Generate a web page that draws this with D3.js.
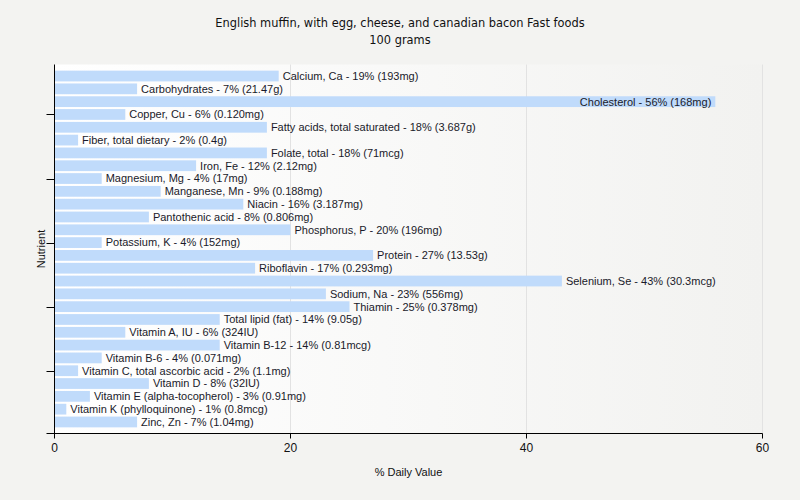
<!DOCTYPE html>
<html>
<head>
<meta charset="utf-8">
<script src="https://cdn.jsdelivr.net/npm/d3@7"></script>
<style>
  body { margin: 0; background: #f3f3f1; }
  svg { display: block; }
</style>
</head>
<body>
<svg id="chart" width="800" height="500"></svg>
<script>
// Data
var nutrients = [
  "Calcium, Ca", "Carbohydrates", "Cholesterol", "Copper, Cu", "Fatty acids, total saturated",
  "Fiber, total dietary", "Folate, total", "Iron, Fe", "Magnesium, Mg", "Manganese, Mn",
  "Niacin", "Pantothenic acid", "Phosphorus, P", "Potassium, K", "Protein", "Riboflavin",
  "Selenium, Se", "Sodium, Na", "Thiamin", "Total lipid (fat)", "Vitamin A, IU",
  "Vitamin B-12", "Vitamin B-6", "Vitamin C, total ascorbic acid", "Vitamin D",
  "Vitamin E (alpha-tocopherol)", "Vitamin K (phylloquinone)", "Zinc, Zn"
];
var percents = [19, 7, 56, 6, 18, 2, 18, 12, 4, 9, 16, 8, 20, 4, 27, 17, 43, 23, 25, 14, 6, 14, 4, 2, 8, 3, 1, 7];
var amounts = [
  "193mg", "21.47g", "168mg", "0.120mg", "3.687g", "0.4g", "71mcg", "2.12mg", "17mg", "0.188mg",
  "3.187mg", "0.806mg", "196mg", "152mg", "13.53g", "0.293mg", "30.3mcg", "556mg", "0.378mg",
  "9.05g", "324IU", "0.81mcg", "0.071mg", "1.1mg", "32IU", "0.91mg", "0.8mcg", "1.04mg"
];
var xTicks = [0, 20, 40, 60];
var yTickIdx = [3, 8, 13, 18, 23];

(function() {
  var svg = d3.select("#chart");
  var left = 54.5, right = 762.5, top = 64.5, bottom = 433.5;

  var x = d3.scaleLinear().domain([0, 60]).range([left, right]);
  var y = d3.scaleBand().domain(nutrients).range([top, bottom]).paddingInner(0.16).paddingOuter(0.48);

  // plot background gradient
  var grad = svg.append("defs").append("linearGradient").attr("id", "bg")
    .attr("x1", "0%").attr("x2", "100%").attr("y1", "0%").attr("y2", "0%");
  grad.append("stop").attr("offset", "0%").attr("stop-color", "#ffffff");
  grad.append("stop").attr("offset", "100%").attr("stop-color", "#f2f2f0");

  svg.append("rect")
    .attr("x", left).attr("y", top)
    .attr("width", right - left).attr("height", bottom - top)
    .attr("fill", "url(#bg)");

  // grid
  svg.append("g").selectAll("line").data(xTicks.slice(1)).enter()
    .append("line")
    .attr("x1", function(d) { return x(d); })
    .attr("x2", function(d) { return x(d); })
    .attr("y1", top).attr("y2", bottom)
    .attr("stroke", "#e2e2e2");

  // bars
  svg.append("g").selectAll("rect").data(nutrients).enter()
    .append("rect")
    .attr("x", x(0))
    .attr("y", function(d) { return y(d); })
    .attr("width", function(d, i) { return x(percents[i]) - x(0); })
    .attr("height", y.bandwidth())
    .attr("fill", "#c0dbfb");

  // bar labels, inside the bar when they would run past the plot
  svg.append("g").selectAll("text").data(nutrients).enter()
    .append("text")
    .each(function(d, i) {
      var t = d3.select(this);
      t.text(d + " - " + percents[i] + "% (" + amounts[i] + ")")
        .attr("y", y(d) + y.bandwidth() / 2)
        .attr("dy", "0.35em")
        .attr("font-family", "Liberation Sans, Arial, sans-serif")
        .attr("font-size", "11px")
        .attr("fill", "#1a1a2a");
      var w = this.getComputedTextLength();
      if (x(percents[i]) + 4 + w > right) {
        t.attr("x", x(percents[i]) - 4).attr("text-anchor", "end");
      } else {
        t.attr("x", x(percents[i]) + 4);
      }
    });

  // axes
  var axes = svg.append("g").attr("stroke", "#000").attr("stroke-width", 1);
  axes.append("line").attr("x1", left).attr("x2", left).attr("y1", top).attr("y2", bottom);
  axes.append("line").attr("x1", left - 8).attr("x2", right).attr("y1", bottom).attr("y2", bottom);
  axes.selectAll(".yt").data(yTickIdx).enter().append("line")
    .attr("x1", left - 8).attr("x2", left)
    .attr("y1", function(d) { return Math.round(y(nutrients[d]) + y.bandwidth() / 2) + 0.5; })
    .attr("y2", function(d) { return Math.round(y(nutrients[d]) + y.bandwidth() / 2) + 0.5; });
  axes.selectAll(".xt").data(xTicks).enter().append("line")
    .attr("x1", function(d) { return x(d); }).attr("x2", function(d) { return x(d); })
    .attr("y1", bottom).attr("y2", bottom + 5);

  svg.append("g").selectAll("text").data(xTicks).enter()
    .append("text")
    .attr("x", function(d) { return x(d); })
    .attr("y", bottom + 18)
    .attr("text-anchor", "middle")
    .attr("font-family", "Liberation Sans, Arial, sans-serif")
    .attr("font-size", "12px")
    .attr("fill", "#111")
    .text(function(d) { return d; });

  // axis titles
  svg.append("text")
    .attr("x", (left + right) / 2).attr("y", 476)
    .attr("text-anchor", "middle")
    .attr("font-family", "Liberation Sans, Arial, sans-serif")
    .attr("font-size", "11px").attr("fill", "#111")
    .text("% Daily Value");

  svg.append("text")
    .attr("transform", "translate(45," + ((top + bottom) / 2) + ") rotate(-90)")
    .attr("text-anchor", "middle")
    .attr("font-family", "Liberation Sans, Arial, sans-serif")
    .attr("font-size", "11px").attr("fill", "#111")
    .text("Nutrient");

  // chart title
  var title = svg.append("text")
    .attr("text-anchor", "middle")
    .attr("font-family", "DejaVu Sans, Verdana, sans-serif")
    .attr("font-size", "11.4px").attr("fill", "#111");
  title.append("tspan").attr("x", 400).attr("y", 27)
    .text("English muffin, with egg, cheese, and canadian bacon Fast foods");
  title.append("tspan").attr("x", 400).attr("y", 44).text("100 grams");
}());
</script>
</body>
</html>
